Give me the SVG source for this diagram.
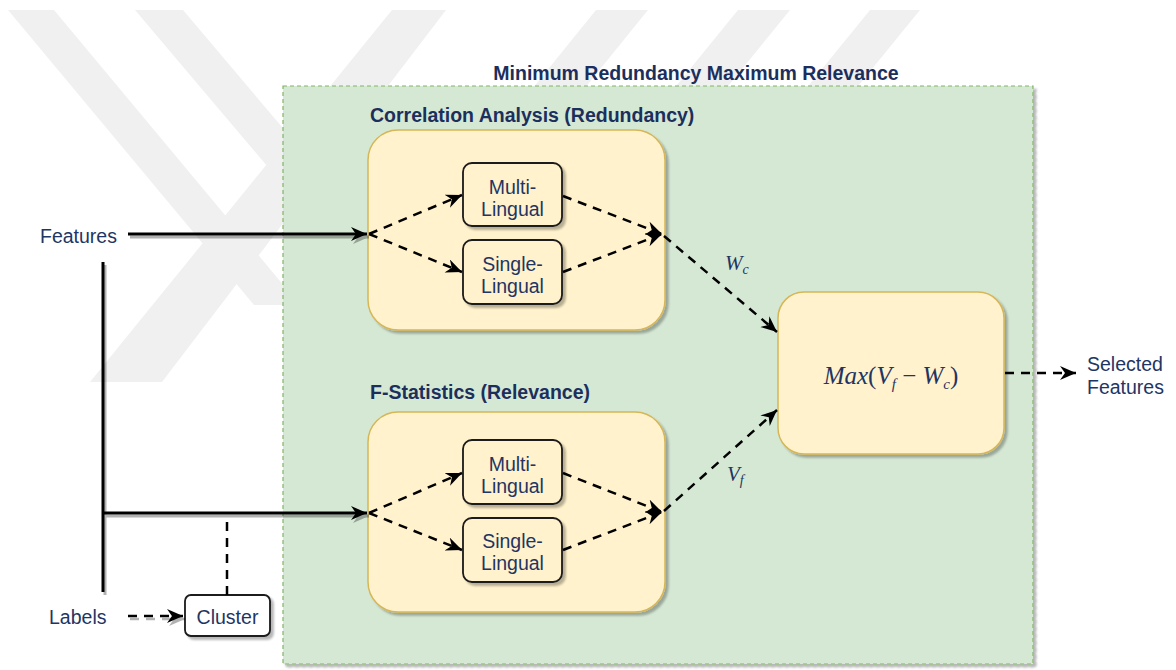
<svg xmlns="http://www.w3.org/2000/svg" width="1176" height="670" viewBox="0 0 1176 670">
  <style>
    .lbl{font-family:"Liberation Sans",Arial,sans-serif;font-size:19.5px;fill:#1f3563}
    .ttl{font-family:"Liberation Sans",Arial,sans-serif;font-size:19.5px;font-weight:bold;fill:#1c2f5c}
    .math{font-family:"Liberation Serif","DejaVu Serif",serif;font-style:italic;fill:#1f3563}
    .grp{fill:#fff2cc;stroke:#d6b656;stroke-width:1.5}
    .inner{fill:#fff2cc;stroke:#1a1a1a;stroke-width:1.8}
    .solid{fill:none;stroke:#000;stroke-width:3}
    .dash{fill:none;stroke:#000;stroke-width:2.5;stroke-dasharray:9 7}
    .wm{fill:#f0f0f0}
  </style>
  <defs>
    <filter id="sh" x="-10%" y="-10%" width="130%" height="130%">
      <feDropShadow dx="3" dy="3" stdDeviation="1" flood-color="#000" flood-opacity="0.28"/>
    </filter>
    <filter id="lsh" x="0" y="0" width="1176" height="670" filterUnits="userSpaceOnUse">
      <feDropShadow dx="2" dy="3" stdDeviation="0.6" flood-color="#000" flood-opacity="0.3"/>
    </filter>
    <marker id="arr" markerUnits="userSpaceOnUse" markerWidth="17" markerHeight="15" refX="16" refY="7" orient="auto">
      <path d="M0,0 L16,7 L0,14 L5,7 Z" fill="#000"/>
    </marker>
    <clipPath id="wmclip"><rect x="0" y="0" width="1176" height="382"/></clipPath>
  </defs>

  <rect width="1176" height="670" fill="#fff"/>

  <!-- watermark -->
  <g id="watermark" clip-path="url(#wmclip)">
    <polygon class="wm" points="8,10 54,10 300,305 254,305"/>
    <polygon class="wm" points="135,10 183,10 420,290 372,290"/>
    <polygon class="wm" points="392,10 446,10 162,382 90,382"/>
    <polygon class="wm" points="596,10 648,10 300,440 248,440"/>
    <polygon class="wm" points="738,10 790,10 440,440 388,440"/>
    <polygon class="wm" points="870,10 920,10 570,440 520,440"/>
  </g>

  <!-- outer container -->
  <g id="mrmr">
    <rect x="283" y="86" width="750" height="578" fill="#d5e8d4" stroke="#82b366" stroke-width="1.2" stroke-dasharray="4 3" filter="url(#sh)"/>
    <text class="ttl" x="696" y="80" text-anchor="middle">Minimum Redundancy Maximum Relevance</text>
  </g>

  <g id="corr">
    <text class="ttl" x="370" y="122">Correlation Analysis (Redundancy)</text>
    <rect class="grp" x="368" y="130" width="297" height="200" rx="30" filter="url(#sh)"/>
  </g>
  <g id="fstat">
    <text class="ttl" x="370" y="399">F-Statistics (Relevance)</text>
    <rect class="grp" x="368" y="412" width="297" height="200" rx="30" filter="url(#sh)"/>
  </g>

  <g id="corr-multi">
    <rect class="inner" x="463" y="163" width="99" height="63" rx="9" filter="url(#sh)"/>
    <text class="lbl" x="512.5" y="194" text-anchor="middle">Multi-</text>
    <text class="lbl" x="512.5" y="216" text-anchor="middle">Lingual</text>
  </g>
  <g id="corr-single">
    <rect class="inner" x="463" y="240" width="99" height="64" rx="9" filter="url(#sh)"/>
    <text class="lbl" x="512.5" y="271" text-anchor="middle">Single-</text>
    <text class="lbl" x="512.5" y="293" text-anchor="middle">Lingual</text>
  </g>
  <g id="fstat-multi">
    <rect class="inner" x="463" y="440" width="99" height="64" rx="9" filter="url(#sh)"/>
    <text class="lbl" x="512.5" y="471" text-anchor="middle">Multi-</text>
    <text class="lbl" x="512.5" y="493" text-anchor="middle">Lingual</text>
  </g>
  <g id="fstat-single">
    <rect class="inner" x="463" y="518" width="99" height="64" rx="9" filter="url(#sh)"/>
    <text class="lbl" x="512.5" y="548" text-anchor="middle">Single-</text>
    <text class="lbl" x="512.5" y="570" text-anchor="middle">Lingual</text>
  </g>

  <g id="max">
    <rect class="grp" x="778" y="292" width="226" height="162" rx="26" filter="url(#sh)"/>
    <text class="math" x="891" y="384" text-anchor="middle" font-size="25">Max<tspan font-style="normal">(</tspan>V<tspan font-size="15" dy="5">f</tspan><tspan dy="-5" font-style="normal"> − </tspan>W<tspan font-size="15" dy="5">c</tspan><tspan dy="-5" font-style="normal">)</tspan></text>
  </g>

  <g id="features"><text class="lbl" x="40" y="243">Features</text></g>
  <g id="labels"><text class="lbl" x="49" y="624">Labels</text></g>
  <g id="cluster">
    <rect x="185" y="595" width="85" height="41" rx="6" fill="#fff" stroke="#1a1a1a" stroke-width="1.8" filter="url(#sh)"/>
    <text class="lbl" x="227.5" y="624" text-anchor="middle">Cluster</text>
  </g>
  <g id="selected">
    <text class="lbl" x="1087" y="371">Selected</text>
    <text class="lbl" x="1087" y="394">Features</text>
  </g>

  <g id="connectors">
    <g filter="url(#lsh)">
      <line class="solid" x1="128" y1="234" x2="367" y2="234" marker-end="url(#arr)"/>
      <line class="solid" x1="103" y1="262" x2="103" y2="592"/>
      <line class="solid" x1="102" y1="513" x2="367" y2="513" marker-end="url(#arr)"/>
      <line class="dash" x1="128" y1="616" x2="183" y2="616" marker-end="url(#arr)"/>
    </g>
    <line class="dash" x1="227" y1="595" x2="227" y2="516"/>

    <line class="dash" x1="369" y1="234" x2="462" y2="195" marker-end="url(#arr)"/>
    <line class="dash" x1="369" y1="234" x2="462" y2="272" marker-end="url(#arr)"/>
    <line class="dash" x1="563" y1="196" x2="662" y2="234" marker-end="url(#arr)"/>
    <line class="dash" x1="563" y1="272" x2="662" y2="234" marker-end="url(#arr)"/>

    <line class="dash" x1="369" y1="513" x2="462" y2="473" marker-end="url(#arr)"/>
    <line class="dash" x1="369" y1="513" x2="462" y2="550" marker-end="url(#arr)"/>
    <line class="dash" x1="563" y1="473" x2="662" y2="512" marker-end="url(#arr)"/>
    <line class="dash" x1="563" y1="550" x2="662" y2="512" marker-end="url(#arr)"/>

    <line class="dash" x1="664" y1="236" x2="777" y2="332" marker-end="url(#arr)"/>
    <line class="dash" x1="664" y1="511" x2="777" y2="410" marker-end="url(#arr)"/>
    <line class="dash" x1="1005" y1="373" x2="1076" y2="373" marker-end="url(#arr)"/>
  </g>

  <g id="edge-labels">
    <text class="math" x="725" y="270" font-size="21">W<tspan font-size="14" dy="4">c</tspan></text>
    <text class="math" x="727" y="481" font-size="21">V<tspan font-size="14" dy="4">f</tspan></text>
  </g>
</svg>
